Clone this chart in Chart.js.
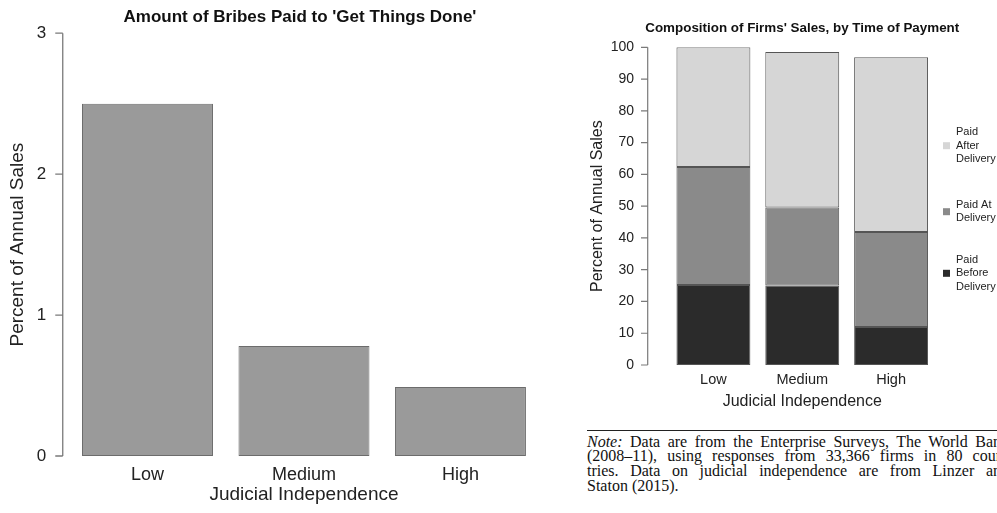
<!DOCTYPE html>
<html>
<head>
<meta charset="utf-8">
<script src="https://cdn.jsdelivr.net/npm/chart.js@4.4.1/dist/chart.umd.min.js"></script>
<style>
  html, body { margin: 0; padding: 0; background: #fff; overflow: hidden; }
  body { width: 997px; height: 513px; position: relative; }
  #bribes { position: absolute; left: 0; top: 0; }
  #payment { position: absolute; left: 560px; top: 0; }
  #note {
    position: absolute; left: 587px; top: 430px; width: 422px;
    border-top: 1px solid #222; padding-top: 3.5px;
    font-family: "Liberation Serif", "Times New Roman", serif;
    font-size: 16px; line-height: 14.7px; color: #111;
  }
  #note .j { text-align: justify; text-align-last: justify; }
</style>
</head>
<body>
<canvas id="bribes" width="560" height="513"></canvas>
<canvas id="payment" width="437" height="420"></canvas>
<div id="note">
  <div class="j"><i>Note:</i> Data are from the Enterprise Surveys, The World Bank</div>
  <div class="j">(2008–11), using responses from 33,366 firms in 80 coun-</div>
  <div class="j">tries. Data on judicial independence are from Linzer and</div>
  <div>Staton (2015).</div>
</div>
<script>
// Data
const categories = ['Low', 'Medium', 'High'];
const bribeValues = [2.5, 0.78, 0.49];
const bribeTicks = [0, 1, 2, 3];

const paidBefore = [25.2, 25.0, 12.0];
const paidAt = [37.1, 24.6, 29.9];
const paidAfter = [37.7, 48.9, 55.0];
const paymentTicks = [0, 10, 20, 30, 40, 50, 60, 70, 80, 90, 100];
const seriesNames = ['Paid\nBefore\nDelivery', 'Paid At\nDelivery', 'Paid\nAfter\nDelivery'];

const FONT = '"Liberation Sans", Arial, Helvetica, sans-serif';
const TEXT = '#222';

// R-style y axis: line detached from the plot area, ticks pointing out
const rAxis = {
  id: 'rAxis',
  afterDraw(chart, args, opts) {
    const y = chart.scales.y;
    const x = chart.chartArea.left - opts.gap;
    const ctx = chart.ctx;
    ctx.save();
    ctx.strokeStyle = opts.color;
    ctx.lineWidth = opts.width;
    ctx.beginPath();
    ctx.moveTo(x, y.getPixelForValue(y.max));
    ctx.lineTo(x, y.getPixelForValue(y.min));
    y.ticks.forEach(t => {
      const py = y.getPixelForValue(t.value);
      ctx.moveTo(x - opts.tick, py);
      ctx.lineTo(x, py);
    });
    ctx.stroke();
    ctx.restore();
  }
};

// title centred over the plot area (built-in one centres over the canvas)
const plotTitle = {
  id: 'plotTitle',
  afterDraw(chart, args, opts) {
    if (!opts.text) return;
    const ctx = chart.ctx;
    const area = chart.chartArea;
    ctx.save();
    ctx.font = opts.font;
    ctx.fillStyle = opts.color;
    ctx.textAlign = 'center';
    ctx.textBaseline = 'middle';
    ctx.fillText(opts.text, (area.left + area.right) / 2 + (opts.dx || 0), opts.y);
    ctx.restore();
  }
};

// legend with wrapped labels, one square per series
const stackLegend = {
  id: 'stackLegend',
  afterDraw(chart, args, opts) {
    if (!opts.centers) return;
    const ctx = chart.ctx;
    ctx.save();
    ctx.font = opts.font;
    ctx.textBaseline = 'middle';
    ctx.textAlign = 'left';
    chart.data.datasets.forEach((ds, i) => {
      const cy = opts.centers[i];
      const lines = ds.label.split('\n');
      ctx.fillStyle = ds.backgroundColor;
      ctx.fillRect(opts.x, cy - opts.box / 2, opts.box, opts.box);
      ctx.fillStyle = opts.color;
      lines.forEach((ln, k) => {
        ctx.fillText(ln, opts.x + opts.textGap, cy + (k - (lines.length - 1) / 2) * opts.lineHeight);
      });
    });
    ctx.restore();
  }
};

Chart.register(rAxis, plotTitle, stackLegend);

function setTicks(list) {
  return scale => { scale.ticks = list.map(v => ({ value: v })); };
}

// Left chart: bribes
new Chart(document.getElementById('bribes'), {
  type: 'bar',
  data: {
    labels: categories,
    datasets: [{
      label: 'Bribes',
      data: bribeValues,
      backgroundColor: '#9a9a9a',
      borderColor: '#6c6c6c',
      borderWidth: 1,
      borderSkipped: false,
      barPercentage: 0.837,
      categoryPercentage: 1
    }]
  },
  options: {
    responsive: false,
    animation: false,
    layout: { padding: { left: 0, right: 21.3, top: 30, bottom: 0 } },
    plugins: {
      legend: { display: false },
      tooltip: { enabled: false },
      plotTitle: {
        text: "Amount of Bribes Paid to 'Get Things Done'",
        y: 17, dx: -4, color: '#111', font: 'bold 17px ' + FONT
      },
      rAxis: { gap: 6.5, tick: 7.5, color: '#7a7a7a', width: 1.3 }
    },
    scales: {
      x: {
        grid: { display: false, drawTicks: false },
        border: { display: false },
        ticks: { color: TEXT, font: { family: FONT, size: 18 }, padding: 8.5 },
        title: {
          display: true, text: 'Judicial Independence', color: TEXT,
          font: { family: FONT, size: 19 }, padding: { top: 0, bottom: 6.8 }
        },
        afterFit: s => { s.height = 57; }
      },
      y: {
        min: 0, max: 3,
        afterBuildTicks: setTicks(bribeTicks),
        grid: { display: false, drawTicks: false },
        border: { display: false },
        ticks: { color: TEXT, font: { family: FONT, size: 17 }, padding: 23 },
        title: {
          display: true, text: 'Percent of Annual Sales', color: TEXT,
          font: { family: FONT, size: 19 }, padding: { top: 6.6, bottom: 0 }
        },
        afterFit: s => { s.width = 69.25; }
      }
    }
  }
});

// Right chart: composition of sales
new Chart(document.getElementById('payment'), {
  type: 'bar',
  data: {
    labels: categories,
    datasets: [
      { label: seriesNames[0], data: paidBefore, backgroundColor: '#2b2b2b' },
      { label: seriesNames[1], data: paidAt, backgroundColor: '#8a8a8a' },
      { label: seriesNames[2], data: paidAfter, backgroundColor: '#d6d6d6' }
    ].map(d => Object.assign(d, {
      borderColor: '#555',
      borderWidth: 1,
      borderSkipped: false,
      barPercentage: 0.832,
      categoryPercentage: 1
    }))
  },
  options: {
    responsive: false,
    animation: false,
    layout: { padding: { left: 0, right: 61.5, top: 47.3, bottom: 0 } },
    plugins: {
      legend: { display: false },
      tooltip: { enabled: false },
      plotTitle: {
        text: "Composition of Firms' Sales, by Time of Payment",
        y: 28, color: '#111', font: 'bold 13.4px ' + FONT
      },
      rAxis: { gap: 21.3, tick: 6.7, color: '#7a7a7a', width: 1.2 },
      stackLegend: {
        centers: [273.3, 211.7, 145.7],
        x: 383, box: 7, textGap: 13, lineHeight: 13.3,
        font: '11px ' + FONT, color: TEXT
      }
    },
    scales: {
      x: {
        stacked: true,
        grid: { display: false, drawTicks: false },
        border: { display: false },
        ticks: { color: TEXT, font: { family: FONT, size: 14.5 }, padding: 6 },
        title: {
          display: true, text: 'Judicial Independence', color: TEXT,
          font: { family: FONT, size: 16 }, padding: { top: 0, bottom: 8.7 }
        },
        afterFit: s => { s.height = 55; }
      },
      y: {
        stacked: true,
        min: 0, max: 100,
        afterBuildTicks: setTicks(paymentTicks),
        grid: { display: false, drawTicks: false },
        border: { display: false },
        ticks: { color: TEXT, font: { family: FONT, size: 14 }, padding: 35 },
        title: {
          display: true, text: 'Percent of Annual Sales', color: TEXT,
          font: { family: FONT, size: 16 }, padding: { top: 27.9, bottom: 0 }
        },
        afterFit: s => { s.width = 109; }
      }
    }
  }
});
</script>
</body>
</html>
